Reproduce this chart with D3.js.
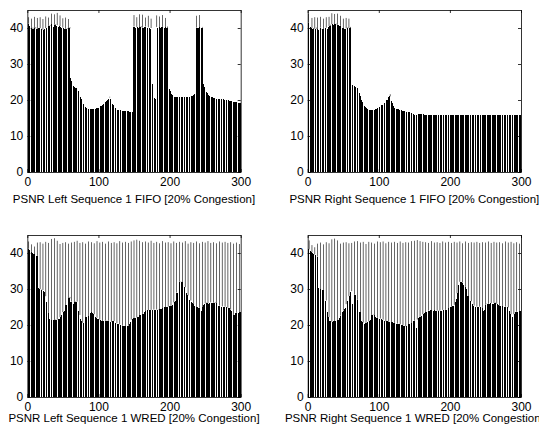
<!DOCTYPE html>
<html>
<head>
<meta charset="utf-8">
<script src="https://cdn.jsdelivr.net/npm/d3@7"></script>
<style>
  body { margin: 0; background: #fff; }
  svg { display: block; }
  text { font-family: Arial, "Liberation Sans", sans-serif; }
</style>
</head>
<body>
<svg id="chart" width="539" height="430"></svg>
<script>
// PSNR per frame (frames 1..300)
const fifoLeft = [
  41.2, 43.0, 40.5, 40.3, 40.0, 42.6, 39.8, 40.1, 39.6, 43.1, 39.9, 40.2, 39.7, 42.8, 39.5, 39.9, 40.0, 43.0, 39.6, 39.8,
  39.5, 42.5, 39.4, 39.6, 39.8, 43.2, 40.0, 39.7, 40.3, 42.9, 40.6, 40.8, 40.5, 44.0, 41.0, 40.7, 40.4, 43.8, 40.9, 41.1,
  40.6, 44.2, 40.8, 40.2, 40.5, 43.5, 40.3, 40.0, 39.8, 42.7, 40.1, 39.7, 39.5, 42.9, 39.8, 40.0, 39.6, 42.5, 39.9, 40.2,
  26.0, 25.2, 24.4, 24.0, 23.8, 23.6, 23.5, 23.4, 23.3, 23.2, 23.0, 22.6, 22.0, 21.4, 20.8, 20.2, 19.7, 19.2, 18.9, 18.6,
  18.3, 18.1, 17.9, 17.8, 17.7, 17.6, 17.6, 17.5, 17.5, 17.5, 17.5, 17.5, 17.5, 17.6, 17.6, 17.6, 17.7, 17.7, 17.8, 17.9,
  18.0, 18.1, 18.2, 18.4, 18.5, 18.7, 18.9, 19.1, 19.3, 19.5, 19.7, 19.9, 20.1, 20.4, 20.7, 20.9, 20.3, 19.8, 19.3, 18.9,
  18.5, 18.2, 17.9, 17.7, 17.5, 17.4, 17.3, 17.3, 17.2, 17.2, 17.1, 17.1, 17.1, 17.0, 17.0, 17.0, 17.0, 16.9, 16.9, 16.9,
  16.9, 16.9, 16.8, 16.8, 16.8, 16.8, 16.8, 16.7, 40.4, 43.6, 40.2, 39.9, 40.1, 43.0, 40.3, 40.0, 39.8, 43.8, 40.2, 40.5,
  40.1, 43.7, 40.0, 39.8, 40.2, 42.9, 40.4, 40.1, 39.9, 43.4, 40.2, 40.0, 39.7, 42.6, 40.0, 24.5, 22.3, 21.0, 20.5, 20.2,
  40.3, 43.5, 40.0, 39.8, 40.2, 43.2, 40.1, 39.9, 40.3, 43.6, 40.0, 39.7, 40.1, 42.8, 40.2, 39.9, 40.4, 25.2, 24.0, 23.1,
  22.5, 22.0, 21.6, 21.3, 21.1, 21.0, 20.9, 20.8, 20.8, 20.8, 20.7, 20.7, 20.7, 20.7, 20.7, 20.7, 20.7, 20.7, 20.7, 20.7,
  20.7, 20.7, 20.7, 20.8, 20.8, 20.8, 20.8, 20.9, 20.9, 21.0, 21.0, 21.1, 21.2, 21.4, 21.6, 21.9, 22.5, 43.4, 40.1, 39.8,
  40.0, 43.6, 40.2, 39.9, 40.1, 40.3, 25.3, 24.4, 23.7, 23.1, 22.6, 22.2, 21.9, 21.6, 21.4, 21.2, 21.0, 20.9, 20.8, 20.7,
  20.6, 20.6, 20.5, 20.5, 20.4, 20.4, 20.4, 20.3, 20.3, 20.3, 20.3, 20.3, 20.2, 20.2, 20.2, 20.2, 20.1, 20.1, 20.1, 20.0,
  20.0, 19.9, 19.9, 19.8, 19.8, 19.7, 19.7, 19.6, 19.6, 19.5, 19.5, 19.5, 19.4, 19.4, 19.4, 19.3, 19.3, 19.3, 19.2, 19.2
];

const fifoRight = [
  44.0, 41.5, 40.6, 40.2, 40.0, 42.8, 39.7, 40.0, 39.5, 43.0, 39.8, 40.1, 39.6, 42.9, 39.4, 39.8, 40.1, 43.1, 39.5, 39.7,
  39.6, 42.6, 39.5, 39.7, 39.9, 43.0, 40.1, 39.8, 40.4, 43.1, 40.5, 40.9, 40.6, 44.1, 41.1, 40.8, 40.5, 43.9, 41.0, 41.2,
  40.7, 44.0, 40.9, 40.3, 40.6, 43.4, 40.2, 40.1, 39.9, 42.6, 40.0, 39.8, 39.6, 42.8, 39.9, 40.1, 39.7, 42.6, 40.0, 40.3,
  26.0, 25.1, 24.3, 24.0, 23.9, 23.8, 23.7, 23.6, 23.5, 23.3, 23.0, 22.5, 21.9, 21.2, 20.5, 19.9, 19.4, 19.0, 18.6, 18.3,
  18.1, 17.9, 17.7, 17.6, 17.5, 17.4, 17.3, 17.3, 17.3, 17.2, 17.2, 17.2, 17.3, 17.3, 17.4, 17.5, 17.6, 17.7, 17.8, 17.9,
  18.0, 18.2, 18.3, 18.5, 18.7, 18.9, 19.1, 19.3, 19.5, 19.7, 19.9, 20.1, 20.4, 20.7, 21.0, 21.6, 20.6, 19.8, 19.1, 18.6,
  18.2, 17.9, 17.7, 17.6, 17.5, 17.5, 17.4, 17.4, 17.3, 17.3, 17.2, 17.1, 17.0, 17.0, 16.9, 16.9, 16.9, 16.9, 16.8, 16.8,
  16.8, 16.8, 16.7, 16.7, 16.6, 16.5, 16.4, 16.2, 16.0, 15.8, 15.8, 15.8, 15.8, 15.9, 15.9, 16.0, 16.0, 16.0, 16.1, 16.1,
  16.0, 16.0, 16.0, 15.9, 15.9, 15.9, 15.8, 15.8, 15.8, 15.8, 15.7, 15.7, 15.7, 15.7, 15.7, 15.7, 15.7, 15.7, 15.7, 15.7,
  15.7, 15.7, 15.7, 15.7, 15.7, 15.7, 15.7, 15.7, 15.7, 15.7, 15.7, 15.7, 15.7, 15.7, 15.7, 15.7, 15.7, 15.8, 15.8, 15.8,
  15.9, 15.9, 15.9, 15.9, 15.9, 15.9, 15.9, 15.9, 15.9, 15.9, 15.9, 15.9, 15.9, 15.9, 15.9, 15.9, 15.9, 15.9, 15.9, 15.9,
  15.9, 15.9, 15.9, 15.9, 15.9, 15.9, 15.9, 15.9, 15.9, 15.9, 15.8, 15.8, 15.8, 15.8, 15.8, 15.7, 15.7, 15.7, 15.7, 15.7,
  15.7, 15.7, 15.7, 15.7, 15.7, 15.7, 15.7, 15.7, 15.7, 15.7, 15.7, 15.7, 15.7, 15.7, 15.7, 15.7, 15.7, 15.7, 15.7, 15.7,
  15.7, 15.7, 15.7, 15.7, 15.7, 15.7, 15.7, 15.7, 15.7, 15.7, 15.7, 15.7, 15.7, 15.7, 15.7, 15.7, 15.7, 15.7, 15.7, 15.7,
  15.7, 15.7, 15.7, 15.7, 15.7, 15.7, 15.7, 15.7, 15.7, 15.7, 15.8, 15.8, 15.8, 15.8, 15.8, 15.8, 15.8, 15.8, 15.8, 15.8
];

const wredLeft = [
  41.2, 43.2, 40.8, 40.5, 40.3, 42.4, 40.1, 39.9, 39.7, 41.8, 39.5, 39.3, 39.2, 42.9, 30.4, 30.2, 30.0, 43.0, 29.8, 29.9,
  29.7, 42.6, 29.5, 29.3, 28.0, 43.1, 26.5, 25.0, 23.2, 42.8, 21.8, 21.5, 21.3, 43.9, 21.2, 21.2, 21.3, 44.1, 21.4, 21.5,
  21.4, 43.4, 21.5, 21.6, 21.8, 42.5, 22.2, 22.7, 23.2, 42.8, 23.6, 23.9, 24.4, 43.0, 25.5, 26.3, 26.8, 42.6, 27.4, 27.8,
  26.5, 42.9, 25.6, 25.4, 25.8, 43.1, 26.3, 26.6, 26.5, 43.4, 25.0, 23.8, 22.8, 42.8, 21.6, 21.0, 20.6, 43.0, 20.5, 20.8,
  21.5, 42.6, 22.2, 22.4, 22.4, 43.2, 22.5, 23.0, 23.4, 43.0, 23.6, 23.4, 23.0, 42.7, 22.6, 22.3, 22.0, 43.3, 21.8, 21.6,
  21.5, 42.9, 21.3, 21.2, 21.1, 43.1, 21.0, 21.0, 21.1, 42.6, 21.2, 21.3, 21.2, 43.2, 21.0, 20.9, 20.8, 42.8, 20.9, 21.0,
  21.1, 43.0, 20.8, 20.6, 20.5, 42.7, 20.4, 20.3, 20.2, 43.3, 20.0, 19.9, 19.8, 42.9, 19.6, 19.5, 19.6, 43.1, 19.5, 19.6,
  19.7, 42.8, 19.8, 20.2, 20.8, 43.2, 21.5, 21.8, 21.9, 43.5, 21.9, 22.0, 22.0, 43.7, 22.1, 22.3, 22.5, 43.4, 22.7, 22.8,
  22.9, 43.0, 23.1, 23.3, 23.5, 43.2, 23.8, 24.0, 24.1, 42.9, 24.1, 24.2, 24.2, 43.4, 24.1, 24.2, 24.3, 42.8, 24.3, 24.2,
  24.2, 43.1, 24.3, 24.4, 24.3, 42.7, 24.4, 24.5, 24.5, 43.3, 24.6, 24.8, 24.9, 42.9, 25.0, 25.1, 25.1, 43.0, 25.1, 25.2,
  25.2, 42.7, 25.3, 25.5, 25.8, 43.2, 26.3, 26.7, 27.5, 42.8, 29.0, 30.8, 31.8, 43.1, 32.0, 32.1, 31.9, 42.9, 31.2, 30.8,
  30.5, 43.3, 29.8, 29.0, 28.2, 42.6, 27.5, 27.0, 26.8, 43.0, 26.4, 26.0, 25.7, 42.8, 25.3, 25.1, 25.0, 43.2, 25.0, 24.9,
  24.8, 42.7, 24.0, 23.6, 23.8, 43.1, 24.9, 25.5, 25.8, 42.9, 26.0, 26.2, 26.0, 43.3, 25.8, 26.1, 26.3, 42.8, 26.2, 26.0,
  25.9, 43.0, 26.2, 26.4, 26.1, 42.7, 25.8, 25.6, 25.4, 43.2, 25.2, 25.1, 25.1, 42.9, 25.2, 25.0, 25.1, 43.1, 25.0, 24.9,
  24.8, 42.8, 24.7, 24.6, 24.3, 43.0, 23.8, 23.2, 22.8, 42.6, 22.7, 23.0, 23.3, 42.9, 23.4, 23.3, 23.4, 42.5, 23.5, 23.6
];

const wredRight = [
  41.0, 43.5, 40.7, 40.5, 40.2, 42.2, 40.0, 39.8, 39.6, 41.6, 39.4, 39.2, 39.0, 42.6, 30.3, 30.1, 30.0, 42.9, 29.9, 29.8,
  29.6, 42.4, 29.4, 28.5, 26.8, 43.0, 25.0, 23.5, 22.2, 42.7, 21.2, 21.0, 20.9, 43.8, 20.9, 21.0, 21.1, 44.0, 21.0, 21.2,
  21.2, 43.5, 21.4, 21.6, 22.0, 42.6, 22.6, 23.0, 23.5, 42.9, 24.0, 24.4, 24.8, 43.0, 25.8, 26.8, 27.3, 42.7, 28.0, 29.3,
  29.4, 42.8, 25.9, 25.7, 27.6, 43.2, 28.4, 28.3, 27.0, 43.3, 25.4, 24.8, 23.5, 42.9, 21.8, 21.0, 20.7, 43.1, 20.5, 20.4,
  20.6, 42.5, 20.6, 20.7, 20.8, 43.1, 21.0, 21.4, 22.0, 42.9, 22.8, 22.9, 22.7, 42.6, 22.3, 22.1, 22.0, 43.2, 21.9, 21.8,
  21.8, 43.0, 21.7, 21.6, 21.5, 43.2, 21.4, 21.2, 21.0, 42.7, 21.0, 21.0, 20.9, 43.1, 20.9, 20.8, 20.8, 42.9, 20.7, 20.6,
  20.6, 43.1, 20.5, 20.4, 20.4, 42.8, 20.3, 20.2, 20.2, 43.2, 20.1, 20.0, 19.9, 42.8, 19.8, 19.6, 19.5, 43.0, 19.6, 19.8,
  20.0, 42.9, 20.2, 20.3, 20.4, 43.3, 20.5, 21.0, 21.2, 43.4, 21.1, 20.5, 19.2, 43.6, 21.5, 22.0, 22.2, 43.3, 22.3, 22.4,
  22.6, 43.1, 23.0, 23.3, 23.5, 43.0, 23.6, 23.8, 24.0, 42.8, 24.0, 24.1, 24.1, 43.3, 24.0, 23.9, 24.0, 42.9, 24.1, 24.0,
  23.9, 43.0, 24.0, 24.1, 24.0, 42.8, 23.9, 24.0, 24.1, 43.2, 24.2, 24.1, 24.0, 42.9, 24.2, 24.4, 24.5, 43.1, 24.6, 24.8,
  25.0, 42.8, 25.1, 25.2, 25.3, 43.1, 25.6, 26.4, 27.2, 42.9, 28.8, 31.0, 31.9, 43.2, 32.0, 31.9, 31.8, 42.7, 31.0, 30.7,
  30.6, 43.2, 30.0, 29.0, 28.0, 42.8, 27.4, 27.0, 26.6, 43.0, 26.2, 25.8, 25.4, 42.9, 25.2, 25.1, 25.1, 43.1, 25.0, 25.0,
  25.1, 42.8, 25.0, 24.9, 24.6, 43.0, 23.8, 23.6, 24.2, 42.9, 25.6, 26.0, 25.9, 43.2, 25.8, 25.9, 26.0, 42.8, 26.1, 25.8,
  25.9, 43.1, 26.1, 26.2, 25.9, 42.9, 25.8, 25.6, 25.3, 43.0, 25.2, 25.1, 25.1, 42.7, 25.2, 25.1, 25.0, 43.2, 25.1, 25.0,
  24.9, 42.9, 24.6, 24.0, 23.0, 43.1, 22.5, 22.3, 22.4, 42.7, 23.0, 23.5, 23.7, 43.0, 23.6, 23.5, 23.7, 42.6, 23.8, 23.6
];

const titles = [
  "PSNR Left Sequence 1 FIFO [20% Congestion]",
  "PSNR Right Sequence 1 FIFO [20% Congestion]",
  "PSNR Left Sequence 1 WRED [20% Congestion]",
  "PSNR Right Sequence 1 WRED [20% Congestion]"
];
const xTicks = [0, 100, 200, 300];
const yTicks = [0, 10, 20, 30, 40];

const svg = d3.select("#chart");

// axes boxes, in pixels
const boxes = [
  { left: 27.3, right: 240.7, top: 10, bottom: 172, labelY: 203 },
  { left: 307.7, right: 521, top: 10, bottom: 172, labelY: 203 },
  { left: 27.3, right: 240.7, top: 235, bottom: 397, labelY: 422 },
  { left: 307.7, right: 521, top: 235, bottom: 397, labelY: 422 }
];

function drawPanel(values, title, box) {
  const x = d3.scaleLinear().domain([0, 300]).range([box.left, box.right]);
  const y = d3.scaleLinear().domain([0, 45]).range([box.bottom, box.top]);
  const bw = (x(1) - x(0)) * 0.72;

  // height of the taller neighbour, so a lone spike can be drawn soft
  const nb = values.map((d, i) => Math.max(values[i - 1] ?? 0, values[i + 1] ?? 0));

  const g = svg.append("g");

  // body of the bars: aliased, gives the black + white stripe look
  g.append("g")
    .attr("shape-rendering", "crispEdges")
    .selectAll("rect")
    .data(values)
    .join("rect")
    .attr("x", (d, i) => x(i + 1) - bw / 2)
    .attr("y", (d, i) => y(Math.min(d, nb[i])))
    .attr("width", bw)
    .attr("height", (d, i) => y(0) - y(Math.min(d, nb[i])))
    .attr("fill", "#000");

  // part of a bar sticking out above both neighbours
  g.append("g")
    .selectAll("rect")
    .data(values.map((d, i) => ({ d, i, n: nb[i] })).filter(o => o.d > o.n))
    .join("rect")
    .attr("x", o => x(o.i + 1) - 0.3)
    .attr("y", o => y(o.d))
    .attr("width", 0.6)
    .attr("height", o => y(o.n) - y(o.d))
    .attr("fill", "#000");

  // matlab style box with inward ticks on every side
  const tk = 3;
  const bottom = g.append("g")
    .attr("transform", `translate(0,${box.bottom})`)
    .call(d3.axisBottom(x).tickValues(xTicks).tickSizeInner(-tk).tickSizeOuter(0).tickPadding(5));
  const top = g.append("g")
    .attr("transform", `translate(0,${box.top})`)
    .call(d3.axisTop(x).tickValues(xTicks).tickSizeInner(-tk).tickSizeOuter(0).tickFormat(""));
  const left = g.append("g")
    .attr("transform", `translate(${box.left},0)`)
    .call(d3.axisLeft(y).tickValues(yTicks).tickSizeInner(-tk).tickSizeOuter(0).tickPadding(4));
  const right = g.append("g")
    .attr("transform", `translate(${box.right},0)`)
    .call(d3.axisRight(y).tickValues(yTicks).tickSizeInner(-tk).tickSizeOuter(0).tickFormat(""));

  [bottom, top, left, right].forEach(a => {
    a.selectAll("path, line").attr("stroke", "#000").attr("stroke-width", 0.8);
    a.selectAll("text").attr("fill", "#000").style("font-size", "12px").style("font-family", "Arial, 'Liberation Sans', sans-serif");
  });

  g.append("text")
    .attr("x", (box.left + box.right) / 2)
    .attr("y", box.labelY)
    .attr("text-anchor", "middle")
    .style("font-size", "11.5px")
    .text(title);
}

[fifoLeft, fifoRight, wredLeft, wredRight].forEach((vals, i) => drawPanel(vals, titles[i], boxes[i]));
</script>
</body>
</html>
